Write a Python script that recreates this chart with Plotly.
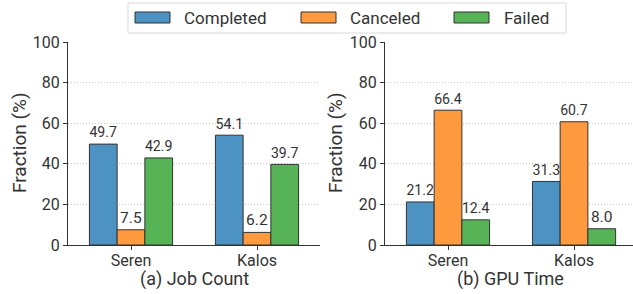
import plotly.graph_objects as go

W, H = 633, 294
clusters = ["Seren", "Kalos"]
series = ["Completed", "Canceled", "Failed"]
job_count = {"Completed": [49.7, 54.1], "Canceled": [7.5, 6.2], "Failed": [42.9, 39.7]}
gpu_time = {"Completed": [21.2, 31.3], "Canceled": [66.4, 60.7], "Failed": [12.4, 8.0]}
y_ticks = [0, 20, 40, 60, 80, 100]
panel_titles = ["(a) Job Count", "(b) GPU Time"]
colors = {"Completed": "#4C92C3", "Canceled": "#FF993E", "Failed": "#56B356"}

FONT = "Roboto, 'DejaVu Sans', sans-serif"
TXT = "#333333"

def px(x):
    return x / W

def py(y):
    return 1 - y / H

fig = go.Figure()
for i, data in enumerate([job_count, gpu_time]):
    xa = "x" if i == 0 else "x2"
    ya = "y" if i == 0 else "y2"
    for s in series:
        fig.add_trace(go.Bar(
            x=clusters, y=data[s], name=s, xaxis=xa, yaxis=ya,
            marker=dict(color=colors[s], line=dict(color="#333333", width=1)),
            text=[f"{v:.1f}" for v in data[s]], textposition="outside",
            textfont=dict(size=15.5, color=TXT, family=FONT),
            cliponaxis=False, showlegend=False, hoverinfo="skip",
        ))

ydom = [py(245), py(42)]
common_y = dict(range=[0, 100], tickvals=y_ticks, showgrid=True, gridcolor="#c8c8c8",
                griddash="1px,2px", gridwidth=1, showline=True, linecolor="#333333", linewidth=1,
                ticks="outside", ticklen=4, tickcolor="#333333", zeroline=False, automargin=False,
                tickfont=dict(size=16, color=TXT, family=FONT), domain=ydom)
common_x = dict(showline=True, linecolor="#333333", linewidth=1, ticks="outside", ticklen=4,
                tickcolor="#333333", showgrid=False, automargin=False, ticklabelstandoff=-3,
                tickfont=dict(size=16, color=TXT, family=FONT))

fig.update_layout(
    width=W, height=H, margin=dict(l=0, r=0, t=0, b=0, pad=0, autoexpand=False),
    paper_bgcolor="white", plot_bgcolor="white",
    barmode="group", bargap=0.34, bargroupgap=0,
    showlegend=False,
    font=dict(family=FONT, color=TXT),
    xaxis=dict(common_x, domain=[px(68), px(320)], range=[-0.5, 1.5], anchor="y"),
    yaxis=dict(common_y, anchor="x"),
    xaxis2=dict(common_x, domain=[px(385), px(633)], range=[-0.5, 1.468], anchor="y2"),
    yaxis2=dict(common_y, anchor="x2"),
)

# subplot titles and y-axis titles
for xc, t in [(194, panel_titles[0]), (510, panel_titles[1])]:
    fig.add_annotation(x=px(xc), y=py(279), xref="paper", yref="paper", text=t,
                       xanchor="center", yanchor="middle",
                       showarrow=False, font=dict(size=18, color=TXT, family=FONT))
for xc in [19, 335]:
    fig.add_annotation(x=px(xc), y=py(143), xref="paper", yref="paper", text="Fraction (%)",
                       xanchor="center", yanchor="middle",
                       textangle=-90, showarrow=False, font=dict(size=19, color=TXT, family=FONT))

# legend drawn as decoration
fig.add_shape(type="rect", xref="paper", yref="paper", x0=px(128), x1=px(566), y0=py(33), y1=py(3),
              line=dict(color="#d9d9d9", width=1), fillcolor="rgba(255,255,255,0.9)", layer="above")
for s, (sx, tx) in zip(series, [(135, 182), (301, 348), (454, 502)]):
    fig.add_shape(type="rect", xref="paper", yref="paper", x0=px(sx), x1=px(sx + 35),
                  y0=py(23), y1=py(12), fillcolor=colors[s],
                  line=dict(color="#333333", width=1), layer="above")
    fig.add_annotation(x=px(tx), y=py(17.5), xref="paper", yref="paper", text=s,
                       xanchor="left", yanchor="middle",
                       showarrow=False, font=dict(size=17, color=TXT, family=FONT))

fig.write_html("out.html", config={"displayModeBar": False},
               post_script="document.body.style.margin='0px';")
